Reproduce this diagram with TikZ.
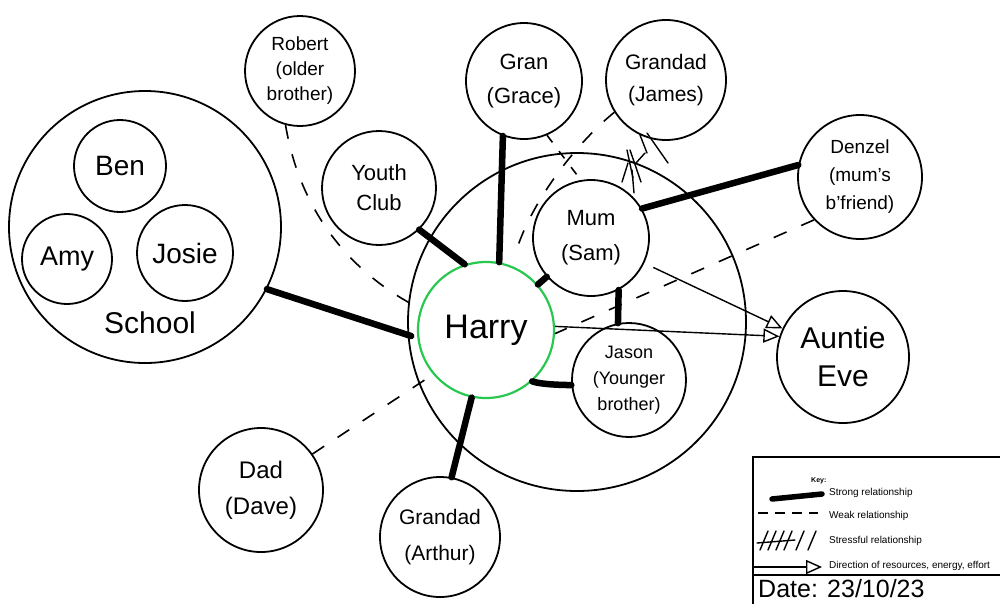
\documentclass[tikz,border=0pt]{standalone}
\usepackage{fontspec}
\setmainfont{Liberation Sans}
\usetikzlibrary{arrows.meta,calc}
\definecolor{harrygreen}{RGB}{40,200,80}
\newcommand{\myfs}[2]{\fontsize{#1}{#2}\selectfont}
\begin{document}
\begin{tikzpicture}[x=1pt,y=-1pt,
  pnode/.style={circle,draw,line width=1.8pt,inner sep=0pt,align=center},
  strong/.style={line width=6.5pt,line cap=round},
  weak/.style={line width=1.6pt,dash pattern=on 14pt off 16pt},
  flow/.style={line width=1.4pt,-{Triangle[open,length=16pt,width=14pt]}},
  stressstroke/.style={line width=1.4pt,line cap=round},
  keytext/.style={anchor=west,inner sep=0pt,font=\myfs{10}{12}}]

\useasboundingbox (0,0) rectangle (1000,603);

% groups
\node[pnode,minimum size=272pt] (school) at (145,227) {};
\node[font=\myfs{30}{34}] (schoollbl) at (150,323) {School};
\node[pnode,minimum size=92pt,font=\myfs{28}{30}] (ben) at (120,166) {Ben};
\node[pnode,minimum size=90pt,font=\myfs{27}{30}] (amy) at (67,259) {Amy};
\node[pnode,minimum size=96pt,font=\myfs{28}{30}] (josie) at (185,253) {Josie};

\node[pnode,minimum size=338pt] (family) at (577,322) {};

% people
\node[pnode,minimum size=110pt,font=\myfs{19}{25}] (robert) at (300,71) {Robert\\(older\\brother)};
\node[pnode,minimum size=114pt,font=\myfs{22}{30}] (youth) at (379,188) {Youth\\Club};
\node[pnode,minimum size=116pt,font=\myfs{22}{34}] (gran) at (524,81) {Gran\\(Grace)};
\node[pnode,minimum size=120pt,font=\myfs{21}{32}] (james) at (666,80) {Grandad\\(James)};
\node[pnode,minimum size=124pt,font=\myfs{19}{28}] (denzel) at (860,177) {Denzel\\(mum's\\b'friend)};
\node[pnode,minimum size=116pt,font=\myfs{22}{35}] (mum) at (591,238) {Mum\\(Sam)};
\node[pnode,draw=harrygreen,line width=2.2pt,minimum size=136pt,font=\myfs{34}{36}] (harry) at (486,330) {Harry};
\node[pnode,minimum size=114pt,font=\myfs{18}{26}] (jason) at (629,380) {Jason\\(Younger\\brother)};
\node[pnode,minimum size=132pt,font=\myfs{30}{38}] (eve) at (843,357) {Auntie\\Eve};
\node[pnode,minimum size=124pt,font=\myfs{24}{36}] (dad) at (261,490) {Dad\\(Dave)};
\node[pnode,minimum size=120pt,font=\myfs{21}{36}] (arthur) at (440,537) {Grandad\\(Arthur)};

% strong relationships
\draw[strong] (school.-27.5) -- ($(harry.185)+(-6,0)$);
\draw[strong] (youth.-46) -- (harry.108);
\draw[strong] (gran.-111) -- (harry.79);
\draw[strong] (harry) -- (mum);
\draw[strong] (mum.30) -- (denzel.169);
\draw[strong] (mum.-62) -- (jason.101);
\draw[strong] (harry.-48) .. controls +(8,3) and +(-10,0) .. (jason.185);
\draw[strong] (harry.-102) -- (arthur.79);

% weak relationships
\draw[weak] (robert.-105) .. controls (298,200) and (340,268) .. (harry.162);
\draw[weak,dash pattern=on 9pt off 11pt] (gran.-67) -- (mum.100);
\draw[weak,shorten >=8pt] (james.-148) .. controls (580,140) and (530,200) .. (harry.68);
\draw[weak] (denzel.-137) -- (harry.-3);
\draw[weak] (dad.35) -- (harry.-140);

% stressful relationship (Grandad James - Mum)
\draw[stressstroke] (640,135) -- (647,153);
\draw[stressstroke] (647,133) -- (668,163);
\draw[stressstroke] (645,153) -- (636,163);
\draw[stressstroke] (627,150) -- (633,178);
\draw[stressstroke] (630,150) -- (641,182);
\draw[stressstroke] (628,163) -- (622,182);
\draw[stressstroke] (632,170) -- (634,193);

% direction of resources
\draw[flow,shorten <=10pt] (mum) -- (eve);
\draw[flow] (harry.3) -- (eve.162);

% key
\draw[line width=1.6pt] (753,610) -- (753,457) -- (1010,457);
\draw[line width=1.6pt] (753,575) -- (1010,575);
\node[anchor=west,inner sep=0pt,font=\myfs{7}{8}\bfseries] (keylbl) at (811,481) {Key:};
\coordinate (ks1) at (772,499);
\coordinate (ks2) at (822,494);
\draw[strong,line width=5.5pt] (ks1) -- (ks2);
\node[keytext] (kstrong) at (829,493) {Strong relationship};
\coordinate (kw1) at (758,513);
\coordinate (kw2) at (818,513);
\draw[line width=1.4pt,dash pattern=on 10pt off 7pt] (kw1) -- (kw2);
\node[keytext] (kweak) at (829,516) {Weak relationship};
\draw[stressstroke] (757,543) -- (795,540);
\foreach \sx in {760,768,776,784,796,808} {
  \draw[stressstroke] (\sx,550) -- (\sx+8,531);
}
\node[keytext] (kstress) at (829,541) {Stressful relationship};
\coordinate (ka1) at (753,567);
\coordinate (ka2) at (822,567);
\draw[flow] (ka1) -- (ka2);
\node[keytext] (kdir) at (829,566) {Direction of resources, energy, effort};
\node[anchor=base west,inner sep=0pt,font=\myfs{25}{28}] (date) at (758,597) {Date: 23/10/23};
\end{tikzpicture}
\end{document}
